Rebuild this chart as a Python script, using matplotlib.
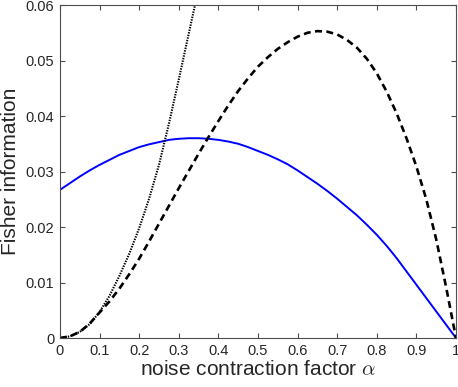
import numpy as np
import matplotlib
matplotlib.use('Agg')
import matplotlib.pyplot as plt

# ── data ────────────────────────────────────────────────────────────
alpha = [0.0, 0.025, 0.05, 0.075, 0.1, 0.125, 0.15, 0.175, 0.2, 0.225,
         0.25, 0.275, 0.3, 0.325, 0.35, 0.375, 0.4, 0.425, 0.45, 0.475,
         0.5, 0.525, 0.55, 0.575, 0.6, 0.625, 0.65, 0.675, 0.7, 0.725,
         0.75, 0.775, 0.8, 0.825, 0.85, 0.875, 0.9, 0.925, 0.95, 0.975, 1.0]

fisher_blue = [0.0267, 0.0279, 0.0291, 0.0302, 0.0312, 0.0321, 0.0330,
               0.0337, 0.0344, 0.0349, 0.0353, 0.0357, 0.0359, 0.0360,
               0.0360, 0.0359, 0.0357, 0.0354, 0.0350, 0.0344, 0.0337,
               0.0330, 0.0322, 0.0313, 0.0302, 0.0290, 0.0278, 0.0265,
               0.0251, 0.0236, 0.0221, 0.0204, 0.0186, 0.0166, 0.0144,
               0.0120, 0.0096, 0.0072, 0.0048, 0.0024, 0.0]

fisher_dashed = [0.0, 0.0003, 0.0011, 0.0026, 0.0046, 0.0066, 0.0089,
                 0.0115, 0.0143, 0.0174, 0.0206, 0.0238, 0.0270, 0.0301,
                 0.0332, 0.0362, 0.0391, 0.0419, 0.0445, 0.0468, 0.0489,
                 0.0506, 0.0521, 0.0533, 0.0543, 0.0550, 0.0553, 0.0552,
                 0.0547, 0.0537, 0.0523, 0.0503, 0.0477, 0.0444, 0.0405,
                 0.0360, 0.0309, 0.0250, 0.0178, 0.0092, 0.0]

alpha_dotted = [0.0, 0.025, 0.05, 0.075, 0.1, 0.125, 0.15, 0.175, 0.2,
                0.225, 0.25, 0.275, 0.3, 0.325, 0.35]
fisher_dotted = [0.0, 0.0003, 0.0011, 0.0025, 0.0047, 0.0076, 0.0112,
                 0.0152, 0.0198, 0.0251, 0.0312, 0.0386, 0.0466, 0.0548,
                 0.0630]

xticks = [0, 0.1, 0.2, 0.3, 0.4, 0.5, 0.6, 0.7, 0.8, 0.9, 1]
xticklabels = ['0', '0.1', '0.2', '0.3', '0.4', '0.5', '0.6', '0.7', '0.8', '0.9', '1']
yticks = [0, 0.01, 0.02, 0.03, 0.04, 0.05, 0.06]
yticklabels = ['0', '0.01', '0.02', '0.03', '0.04', '0.05', '0.06']

# ── style ────────────────────────────────────────────────────────────
plt.rcParams['font.family'] = ['Liberation Sans', 'DejaVu Sans']
plt.rcParams['mathtext.fontset'] = 'cm'
plt.rcParams['lines.scale_dashes'] = False

fig = plt.figure(figsize=(4.58, 3.87), dpi=100)
ax = fig.add_axes([0.131, 0.1266, 0.8646, 0.8604])

ax.plot(alpha, fisher_blue, color=(0, 0, 1), lw=1.4)
ax.plot(alpha, fisher_dashed, color='k', lw=1.9, linestyle=(0, (5.0, 3.2)))
ax.plot(alpha_dotted, fisher_dotted, color='k', lw=1.5, linestyle=(0, (1.0, 0.9)))

ax.set_xlim(0, 1)
ax.set_ylim(0, 0.06)
ax.set_xticks(xticks)
ax.set_xticklabels(xticklabels)
ax.set_yticks(yticks)
ax.set_yticklabels(yticklabels)

text_col = '#262626'
for s in ax.spines.values():
    s.set_color('#4d4d4d')
    s.set_linewidth(0.8)
ax.tick_params(direction='in', top=True, right=True, length=3.6, width=0.8,
               color='#4d4d4d', labelsize=10.5, labelcolor=text_col, pad=4)

ax.set_xlabel(r'noise contraction factor $\alpha$', fontsize=15, color=text_col, labelpad=2)
ax.set_ylabel('Fisher information', fontsize=15, color=text_col, labelpad=4)

fig.savefig('out.png', dpi=100)
